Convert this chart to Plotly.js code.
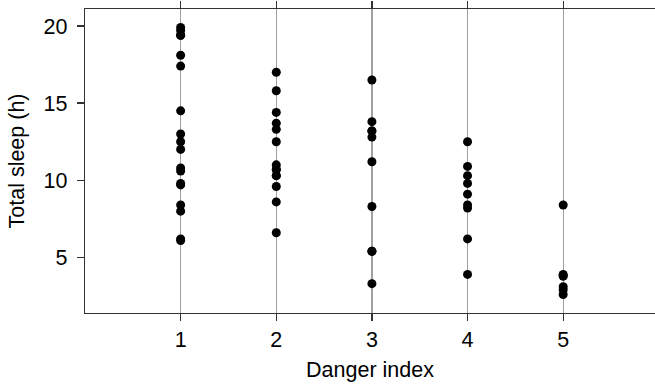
<!DOCTYPE html>
<html>
<head>
<meta charset="utf-8">
<script src="https://cdn.plot.ly/plotly-3.0.1.min.js"></script>
<style>html,body{margin:0;padding:0;background:#fff;}#chart{width:655px;height:384px;}</style>
</head>
<body>
<div id="chart"></div>
<script>
// Total sleep (h) by predation danger index, per species
const danger1 = [12.5, 19.7, 14.5, 9.7, 8.4, 6.1, 18.1, 12.0, 6.2, 13.0, 10.8, 19.9, 8.0, 10.6, 19.4, 17.4, 9.8, 19.4];
const danger2 = [10.3, 8.6, 10.7, 10.7, 14.4, 17.0, 13.7, 12.5, 9.6, 6.6, 11.0, 10.3, 13.3, 15.8];
const danger3 = [3.3, 8.3, 16.5, 13.8, 11.2, 13.2, 12.8, 13.2, 5.4, 5.4];
const danger4 = [3.9, 9.8, 6.2, 12.5, 8.2, 9.1, 10.9, 8.4, 10.3];
const danger5 = [3.9, 3.1, 3.8, 2.9, 8.4, 2.6, 3.8];
const dangerLevels = [1, 2, 3, 4, 5];
const groups = [danger1, danger2, danger3, danger4, danger5];

const xs = [], ys = [];
groups.forEach((g, i) => g.forEach(v => { xs.push(dangerLevels[i]); ys.push(v); }));

const font = {family: 'Liberation Sans, Arial, sans-serif', size: 21.5, color: '#000'};

const trace = {
  x: xs, y: ys, type: 'scatter', mode: 'markers',
  marker: {color: '#000', size: 9, line: {width: 0}},
  hoverinfo: 'x+y'
};

const layout = {
  width: 655, height: 384,
  margin: {l: 85, r: 0, t: 9, b: 71},
  paper_bgcolor: '#fff', plot_bgcolor: '#fff',
  font: font,
  showlegend: false,
  xaxis: {
    range: [0, 5.96],
    tickvals: dangerLevels,
    ticktext: dangerLevels.map(String),
    ticks: 'outside', ticklen: 7, tickwidth: 1.3, tickcolor: '#333',
    showline: true, linecolor: '#333', linewidth: 1.3, mirror: 'ticks',
    showgrid: true, gridcolor: '#a0a0a0', gridwidth: 1.2,
    zeroline: false,
    tickfont: font,
    title: {text: 'Danger index', font: font, standoff: 11},
    automargin: false
  },
  yaxis: {
    range: [1.4, 21.1],
    tickvals: [5, 10, 15, 20],
    ticks: 'outside', ticklen: 7, tickwidth: 1.3, tickcolor: '#333',
    showline: true, linecolor: '#333', linewidth: 1.3, mirror: false,
    showgrid: false, zeroline: false,
    tickfont: font,
    ticklabelstandoff: 5,
    title: {text: 'Total sleep (h)', font: font, standoff: 13},
    automargin: false
  }
};

Plotly.newPlot('chart', [trace], layout, {displayModeBar: false, staticPlot: true});
</script>
</body>
</html>
